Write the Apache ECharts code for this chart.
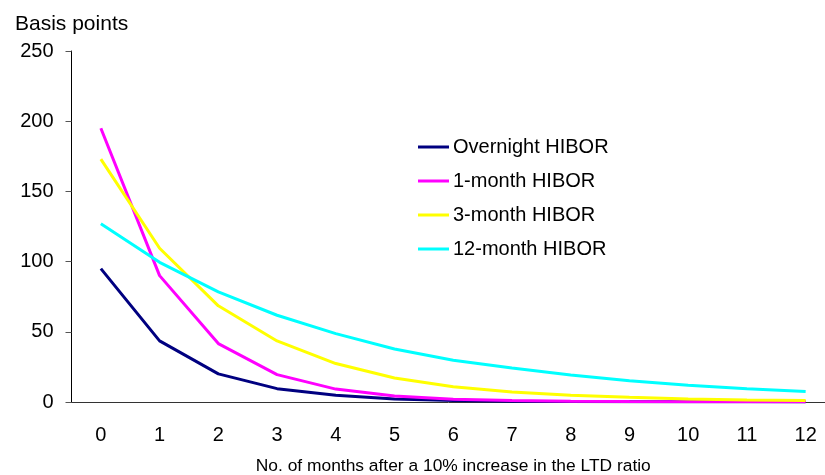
<!DOCTYPE html>
<html>
<head>
<meta charset="utf-8">
<script src="https://cdn.jsdelivr.net/npm/echarts@6/dist/echarts.min.js"></script>
<style>
  html, body { margin: 0; padding: 0; background: #fff; }
  #chart { width: 825px; height: 475px; }
</style>
</head>
<body>
<div id="chart"></div>
<script>
// months after the LTD ratio shock
const months = ['0', '1', '2', '3', '4', '5', '6', '7', '8', '9', '10', '11', '12']

// basis points
const overnight = [95, 43.5, 20, 9.5, 4.8, 2.2, 1, 0.5, 0.3, 0.2, 0.1, 0.1, 0]
const oneMonth = [195, 90, 41.6, 19.5, 9.2, 4.3, 2, 1, 0.5, 0.3, 0.2, 0.1, 0.1]
const threeMonth = [173, 109.5, 68.5, 43.5, 27.4, 17.1, 10.8, 7.1, 4.8, 3.3, 2.2, 1.5, 1]
const twelveMonth = [127, 99.5, 78.4, 61.8, 48.7, 37.8, 29.8, 24.2, 19.2, 15.2, 12, 9.4, 7.4]

const seriesNames = ['Overnight HIBOR', '1-month HIBOR', '3-month HIBOR', '12-month HIBOR']
const seriesColors = ['#000080', '#ff00ff', '#ffff00', '#00ffff']
const seriesData = [overnight, oneMonth, threeMonth, twelveMonth]

const font = 'Liberation Sans, Arial, sans-serif'

const option = {
  animation: false,
  title: {
    text: 'Basis points',
    left: 10,
    top: 9,
    textStyle: { fontFamily: font, fontSize: 21, fontWeight: 'normal', color: '#000' }
  },
  legend: {
    orient: 'vertical',
    left: 413,
    top: 132,
    itemWidth: 31,
    itemHeight: 14,
    itemGap: 14,
    // plain line swatch, no marker
    icon: 'path://M0,0 L31,0 L31,3 L0,3 Z',
    textStyle: { fontFamily: font, fontSize: 20, color: '#000', padding: [0, 0, 0, -1] },
    data: seriesNames
  },
  grid: {
    left: 71.5,
    top: 51,
    bottom: 73,
    right: -10,
    outerBoundsMode: 'none',
    containLabel: false
  },
  xAxis: {
    type: 'category',
    data: months,
    name: 'No. of months after a 10% increase in the LTD ratio',
    nameLocation: 'middle',
    nameGap: 56,
    nameTextStyle: { fontFamily: font, fontSize: 17.4, color: '#000' },
    axisLine: { lineStyle: { color: '#333', width: 1 } },
    axisTick: { length: 5, lineStyle: { color: '#333' } },
    axisLabel: { fontFamily: font, fontSize: 20, color: '#000', margin: 23 }
  },
  yAxis: {
    type: 'value',
    min: 0,
    max: 250,
    interval: 50,
    splitLine: { show: false },
    axisLine: { show: true, lineStyle: { color: '#000', width: 1 } },
    axisTick: { show: true, length: 6, lineStyle: { color: '#555' } },
    axisLabel: { fontFamily: font, fontSize: 20, color: '#000', margin: 18 }
  },
  series: seriesNames.map((name, i) => ({
    name: name,
    type: 'line',
    data: seriesData[i],
    symbol: 'none',
    color: seriesColors[i],
    lineStyle: { width: 3, color: seriesColors[i] }
  }))
}

const chart = echarts.init(document.getElementById('chart'))
chart.setOption(option)
</script>
</body>
</html>
